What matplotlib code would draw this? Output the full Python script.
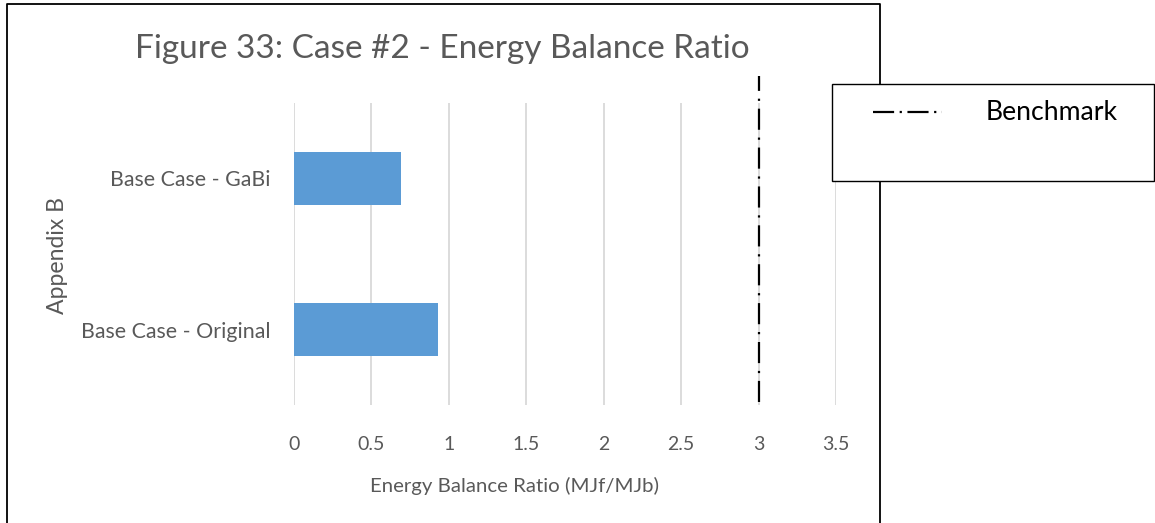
import matplotlib
matplotlib.use('Agg')
import matplotlib.pyplot as plt
from matplotlib.lines import Line2D
from matplotlib.patches import Rectangle
import matplotlib.transforms as mtransforms

# data
categories = ['Base Case - Original', 'Base Case - GaBi']
ratios = [0.93, 0.69]
benchmark = 3.0
x_ticks = [0, 0.5, 1, 1.5, 2, 2.5, 3, 3.5]
x_tick_labels = ['0', '0.5', '1', '1.5', '2', '2.5', '3', '3.5']

plt.rcParams['font.family'] = ['Lato', 'DejaVu Sans']
grey = '#595959'

W, H = 1155, 523
fig = plt.figure(figsize=(W / 100, H / 100), dpi=100)
ax = fig.add_axes([294 / W, 1 - 405 / H, 542 / W, 302 / H])

ypos = list(range(len(categories)))
ax.barh(ypos, ratios, height=0.355, color='#5B9BD5', zorder=3)
ax.set_ylim(-0.5, len(categories) - 0.5)
ax.set_xlim(0, 3.5)
ax.set_xticks(x_ticks)
ax.set_xticklabels(x_tick_labels)
ax.set_yticks(ypos)
ax.set_yticklabels(categories)
ax.tick_params(axis='both', length=0, labelcolor=grey)
ax.tick_params(axis='x', pad=22, labelsize=14)
ax.tick_params(axis='y', pad=17, labelsize=15.4)
ax.grid(axis='x', color='#D9D9D9', linewidth=1.3, zorder=0)
for s in ax.spines.values():
    s.set_visible(False)

# benchmark line, goes a bit above the plot area
trans = mtransforms.blended_transform_factory(ax.transData, ax.transAxes)
bench, = ax.plot([benchmark, benchmark], [0.01, 1.09], transform=trans, color='black',
                 linewidth=1.6, linestyle=(0, (9.5, 3.5, 1, 3.5)), clip_on=False, zorder=4)

ax.set_xlabel('Energy Balance Ratio (MJf/MJb)', fontsize=14.7, color=grey)
ax.xaxis.set_label_coords((514 - 294) / 542, (405 - 477) / 302)
fig.text(57 / W, 1 - 255 / H, 'Appendix B', rotation=90, fontsize=16.6, color=grey,
         ha='center', va='center')

fig.text(442 / W, 1 - 49 / H, 'Figure 33: Case #2 - Energy Balance Ratio', fontsize=24,
         color=grey, ha='center', va='center')

# chart border (left, top, right)
fig.add_artist(Line2D([7 / W, 7 / W, 880 / W, 880 / W], [0, 1 - 4 / H, 1 - 4 / H, 0],
                      transform=fig.transFigure, color='black', linewidth=1.3))

# legend box
fig.add_artist(Rectangle((832 / W, 1 - 181 / H), (1154 - 832) / W, 97 / H,
                         transform=fig.transFigure, facecolor='white', edgecolor='black',
                         linewidth=1.0, zorder=5))
fig.add_artist(Line2D([873 / W, 942 / W], [1 - 112 / H, 1 - 112 / H], transform=fig.transFigure,
                      color='black', linewidth=1.6, linestyle=(0, (9.5, 2.5, 1, 2.5)), zorder=6))
fig.text(986 / W, 1 - 113 / H, 'Benchmark', fontsize=19.2, color='black', ha='left', va='center',
         zorder=6)

fig.savefig('out.png', dpi=100)
